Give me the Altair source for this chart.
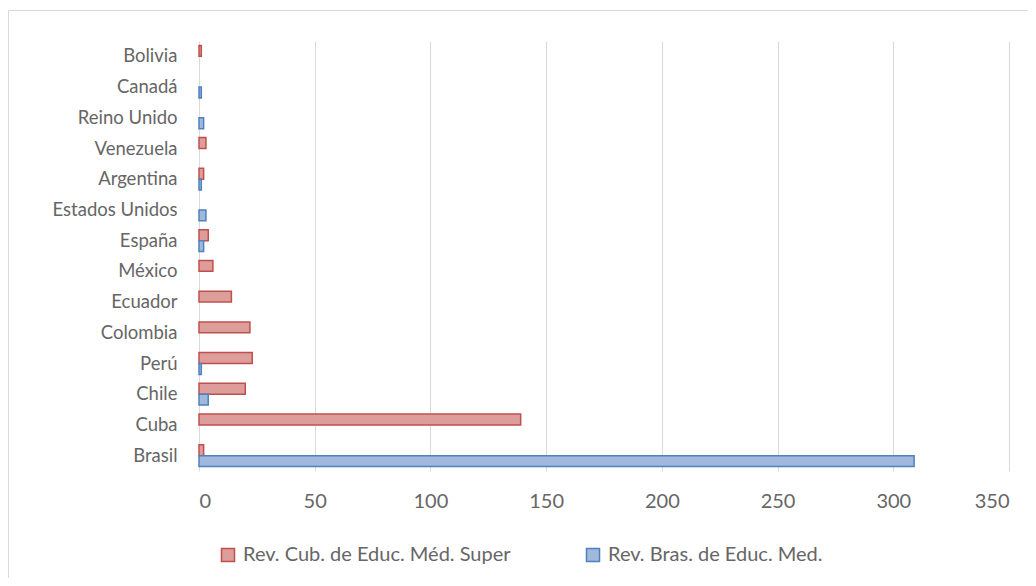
import altair as alt
import pandas as pd

countries = ["Bolivia", "Canadá ", "Reino Unido", "Venezuela", "Argentina", "Estados Unidos",
             "España", "México", "Ecuador", "Colombia", "Perú", "Chile", "Cuba", "Brasil"]
series_names = ["Rev. Cub. de Educ. Méd. Super", "Rev. Bras. de Educ. Med."]
cub_values = [1, 0, 0, 3, 2, 0, 4, 6, 14, 22, 23, 20, 139, 2]
bras_values = [0, 1, 2, 0, 1, 3, 2, 0, 0, 0, 1, 4, 0, 309]
x_ticks = [0, 50, 100, 150, 200, 250, 300, 350]

rows = []
for c, v in zip(countries, cub_values):
    rows.append({"pais": c, "serie": series_names[0], "valor": v})
for c, v in zip(countries, bras_values):
    rows.append({"pais": c, "serie": series_names[1], "valor": v})
df = pd.DataFrame(rows)

FONT = "Lato"
GREY = "#666666"
fills = ["#dc9d9b", "#9fb8db"]
strokes = ["#c0504d", "#4f81bd"]

legend_kw = dict(title=None, orient="none", legendX=19, legendY=504,
                 direction="horizontal", symbolType="square",
                 symbolSize=170, symbolStrokeWidth=1.5,
                 labelFontSize=20, labelColor=GREY, labelFont=FONT,
                 columnPadding=72, labelOffset=5, labelLimit=1000)

bars = alt.Chart(df).transform_filter("datum.valor > 0").mark_bar(strokeWidth=1.5).encode(
    x=alt.X("valor:Q", scale=alt.Scale(domain=[0, 350], nice=False),
            axis=alt.Axis(values=x_ticks, title=None, grid=True, gridColor="#d9d9d9",
                          gridWidth=1, domain=False, ticks=False, labelPadding=20,
                          labelFontSize=20, labelColor=GREY, labelFont=FONT)),
    y=alt.Y("pais:N", sort=countries,
            scale=alt.Scale(paddingInner=0.29, paddingOuter=0.145),
            axis=alt.Axis(title=None, domain=False, ticks=False, grid=False, labelPadding=22,
                          labelFontSize=18.5, labelColor=GREY, labelFont=FONT)),
    yOffset=alt.YOffset("serie:N", sort=series_names),
    fill=alt.Fill("serie:N", scale=alt.Scale(domain=series_names, range=fills),
                  legend=alt.Legend(**legend_kw)),
    stroke=alt.Stroke("serie:N", scale=alt.Scale(domain=series_names, range=strokes),
                      legend=alt.Legend(**legend_kw)),
)

frame = alt.Data(values=[{"k": 1}])
left_border = alt.Chart(frame).mark_rule(color="#d9d9d9", strokeWidth=1).encode(
    x=alt.value(-190.5), y=alt.value(-30.5), y2=alt.value(700))
top_border = alt.Chart(frame).mark_rule(color="#d9d9d9", strokeWidth=1).encode(
    x=alt.value(-190.5), x2=alt.value(1200), y=alt.value(-30.5))

chart = alt.layer(bars, left_border, top_border).properties(
    width=810, height=430,
    autosize=alt.AutoSizeParams(type="none"),
    padding={"left": 191, "top": 33, "right": 19, "bottom": 107},
    background="white",
).configure_view(strokeWidth=0, stroke="transparent")

chart.save("out.html", embed_options={"renderer": "svg", "actions": False})
